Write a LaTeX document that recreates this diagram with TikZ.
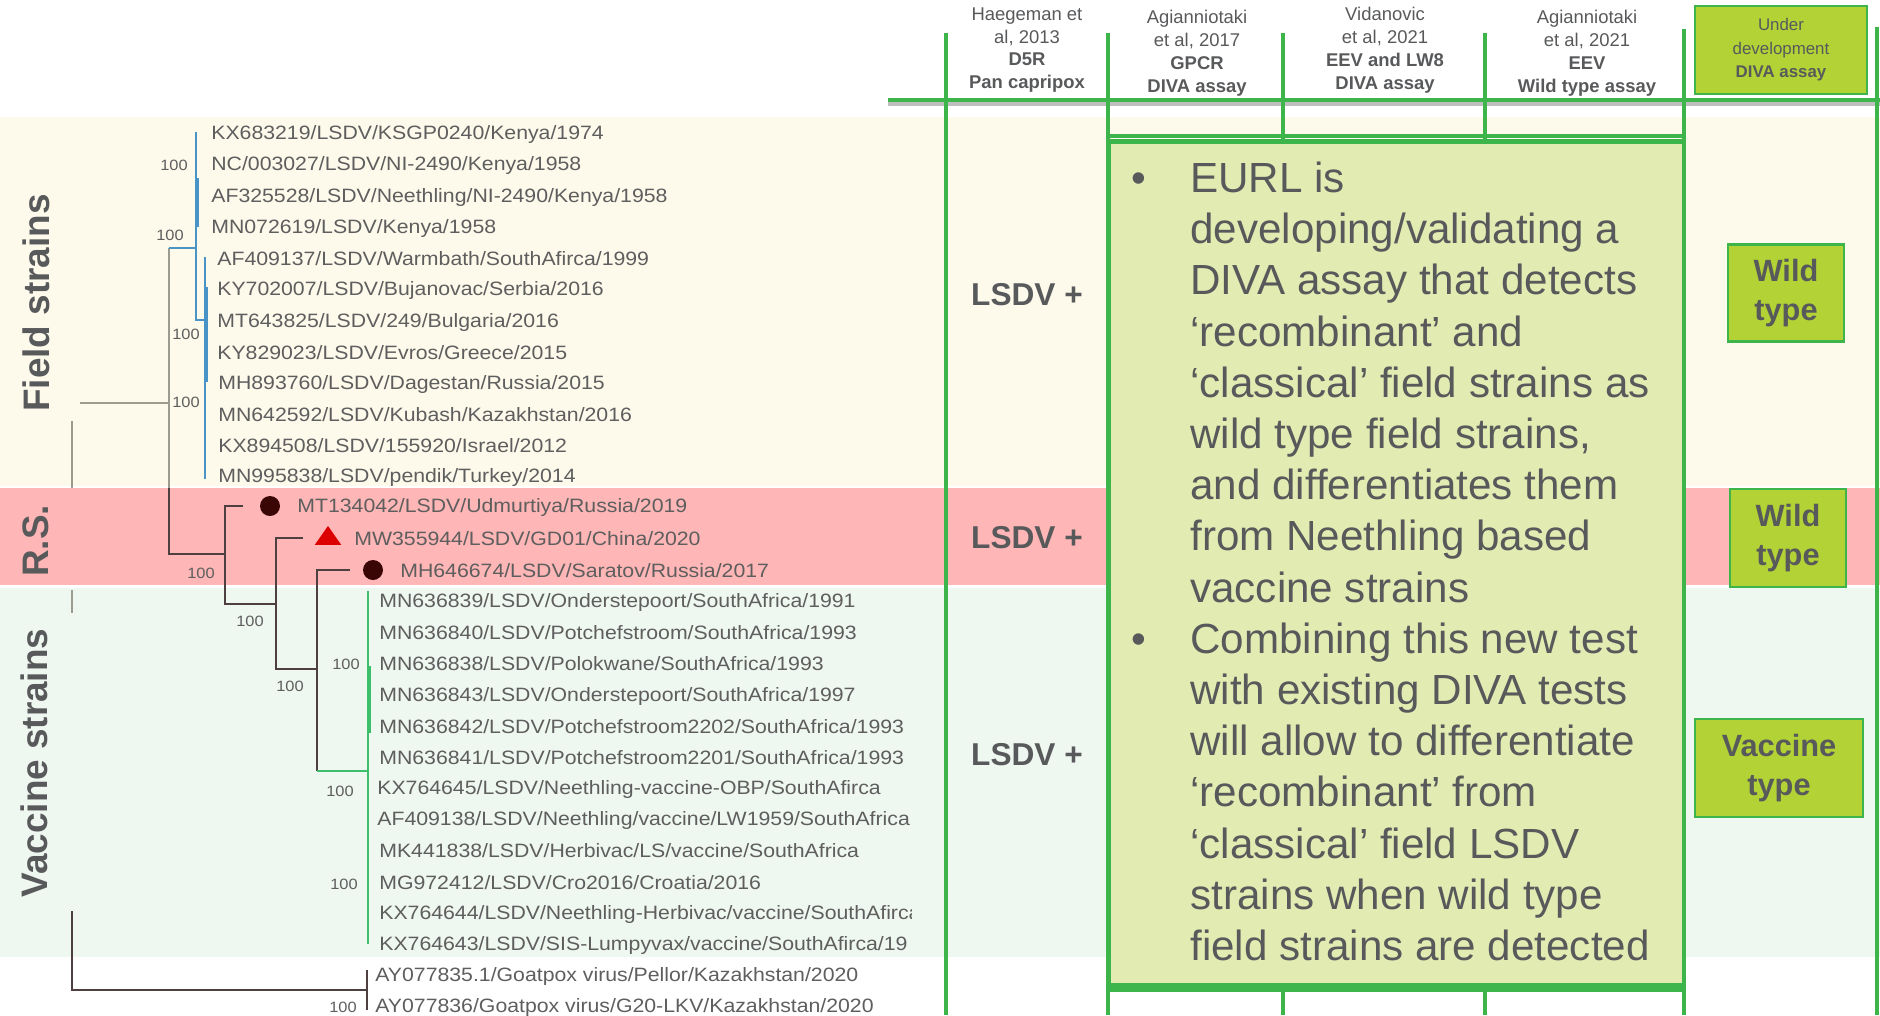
\documentclass[tikz,border=0pt]{standalone}
\usepackage{fontspec}
\setmainfont{Liberation Sans}
\usepackage{graphicx}
\usetikzlibrary{shapes.geometric}
\definecolor{creamband}{HTML}{FDFAEB}
\definecolor{pinkband}{HTML}{FEB6B6}
\definecolor{mintband}{HTML}{EFF7F1}
\definecolor{rulegreen}{HTML}{3DB54A}
\definecolor{limefill}{HTML}{B3D236}
\definecolor{panelfill}{HTML}{E2ECB2}
\definecolor{inkgray}{HTML}{58595B}
\definecolor{leafgray}{HTML}{5E5E5E}
\definecolor{treegray}{HTML}{9C9B90}
\definecolor{treedark}{HTML}{4E4040}
\definecolor{cladeblue}{HTML}{4A93C6}
\definecolor{cladegreen}{HTML}{3DBE6A}
\definecolor{markerdark}{HTML}{3A0505}
\definecolor{markerred}{HTML}{DD0000}
% tree labels are set slightly wide
\newcommand\widen[1]{\scalebox{1.1}[1]{#1}}
\begin{document}
\begin{tikzpicture}[x=0.02cm,y=-0.02cm,
  leaf/.style={anchor=west,inner sep=0pt,text=leafgray,font=\fontsize{11}{13}\selectfont},
  boot/.style={inner sep=0pt,text=leafgray,font=\fontsize{8.5}{10}\selectfont},
  fieldbr/.style={draw=treegray,line width=0.8pt},
  darkbr/.style={draw=treedark,line width=0.8pt},
  bluebr/.style={draw=cladeblue,line width=0.9pt},
  greenbr/.style={draw=cladegreen,line width=0.9pt},
  sidelab/.style={rotate=90,inner sep=0pt,text=inkgray,font=\bfseries\fontsize{21}{25}\selectfont},
  rulev/.style={draw=rulegreen,line width=2.3pt},
  colhead/.style={align=center,inner sep=0pt,text=inkgray,font=\fontsize{10.5}{13}\selectfont},
  result/.style={inner sep=0pt,text=inkgray,font=\bfseries\fontsize{18}{22}\selectfont},
  typebox/.style={draw=rulegreen,line width=1.2pt,fill=limefill,text=inkgray,align=center,inner sep=0pt,font=\bfseries\fontsize{17.5}{22.5}\selectfont},
  paneltext/.style={anchor=base west,inner sep=0pt,text=inkgray,font=\fontsize{24}{29}\selectfont},
  bulletmark/.style={anchor=base,inner sep=0pt,text=inkgray,font=\fontsize{24}{29}\selectfont},
  dotmark/.style={circle,fill=markerdark,inner sep=0pt,minimum size=0.4cm},
  trimark/.style={isosceles triangle,shape border rotate=90,isosceles triangle apex angle=70,fill=markerred,inner sep=0pt,minimum height=0.38cm}
]
\useasboundingbox (0,0) rectangle (1880,1015);

% strain group bands
\fill[creamband] (0,117) rectangle (1880,486);
\fill[pinkband] (0,488) rectangle (1880,585);
\fill[mintband] (0,588) rectangle (1880,957);

% ---------------- phylogenetic tree ----------------
\begin{scope}
\clip (0,0) rectangle (911,1015);
% field strain clade
\draw[fieldbr] (80,403) -- (169,403);
\draw[fieldbr] (169,248) -- (169,488);
\draw[darkbr] (169,488) -- (169,554) -- (225,554);
\draw[bluebr] (169,248) -- (196,248);
\draw[bluebr] (196,132) -- (196,320) -- (205,320);
\draw[draw=cladeblue,line width=2pt] (197,178) -- (197,227);
\draw[bluebr] (205,257) -- (205,479);
\draw[draw=cladeblue,line width=2pt] (206,287) -- (206,382);
% recombinant strains
\draw[darkbr] (243,506) -- (225,506) -- (225,604) -- (276,604);
\draw[darkbr] (303,538) -- (276,538) -- (276,669) -- (317,669);
\draw[darkbr] (350,570) -- (317,570) -- (317,771);
\draw[greenbr] (317,771) -- (368,771);
% vaccine clade
\draw[greenbr] (368,591) -- (368,944);
\draw[draw=cladegreen,line width=2pt] (369,666) -- (369,733);
% outgroup and root
\draw[fieldbr] (72,421) -- (72,488);
\draw[fieldbr] (72,590) -- (72,613);
\draw[draw=treedark,line width=0.8pt] (72,911) -- (72,990) -- (367,990);
\draw[draw=treedark,line width=0.8pt] (367,970) -- (367,1010);

\node[dotmark] (m1) at (270,506) {};
\node[trimark] (m2) at (328,538) {};
\node[dotmark] (m3) at (373,570) {};

\node[leaf] (f1) at (211,134) {\widen{KX683219/LSDV/KSGP0240/Kenya/1974}};
\node[leaf] (f2) at (211,165) {\widen{NC/003027/LSDV/NI-2490/Kenya/1958}};
\node[leaf] (f3) at (211,197) {\widen{AF325528/LSDV/Neethling/NI-2490/Kenya/1958}};
\node[leaf] (f4) at (211,228) {\widen{MN072619/LSDV/Kenya/1958}};
\node[leaf] (f5) at (217,259) {\widen{AF409137/LSDV/Warmbath/SouthAfirca/1999}};
\node[leaf] (f6) at (217,290) {\widen{KY702007/LSDV/Bujanovac/Serbia/2016}};
\node[leaf] (f7) at (217,322) {\widen{MT643825/LSDV/249/Bulgaria/2016}};
\node[leaf] (f8) at (217,353) {\widen{KY829023/LSDV/Evros/Greece/2015}};
\node[leaf] (f9) at (218,384) {\widen{MH893760/LSDV/Dagestan/Russia/2015}};
\node[leaf] (f10) at (218,415) {\widen{MN642592/LSDV/Kubash/Kazakhstan/2016}};
\node[leaf] (f11) at (218,446) {\widen{KX894508/LSDV/155920/Israel/2012}};
\node[leaf] (f12) at (218,477) {\widen{MN995838/LSDV/pendik/Turkey/2014}};

\node[leaf] (r1) at (297,507) {\widen{MT134042/LSDV/Udmurtiya/Russia/2019}};
\node[leaf] (r2) at (354,539) {\widen{MW355944/LSDV/GD01/China/2020}};
\node[leaf] (r3) at (400,571) {\widen{MH646674/LSDV/Saratov/Russia/2017}};

\node[leaf] (v1) at (379,602) {\widen{MN636839/LSDV/Onderstepoort/SouthAfrica/1991}};
\node[leaf] (v2) at (379,633) {\widen{MN636840/LSDV/Potchefstroom/SouthAfrica/1993}};
\node[leaf] (v3) at (379,664) {\widen{MN636838/LSDV/Polokwane/SouthAfrica/1993}};
\node[leaf] (v4) at (379,696) {\widen{MN636843/LSDV/Onderstepoort/SouthAfrica/1997}};
\node[leaf] (v5) at (379,727) {\widen{MN636842/LSDV/Potchefstroom2202/SouthAfrica/1993}};
\node[leaf] (v6) at (379,758) {\widen{MN636841/LSDV/Potchefstroom2201/SouthAfrica/1993}};
\node[leaf] (v7) at (377,789) {\widen{KX764645/LSDV/Neethling-vaccine-OBP/SouthAfirca}};
\node[leaf] (v8) at (377,820) {\widen{AF409138/LSDV/Neethling/vaccine/LW1959/SouthAfrica}};
\node[leaf] (v9) at (379,851) {\widen{MK441838/LSDV/Herbivac/LS/vaccine/SouthAfrica}};
\node[leaf] (v10) at (379,883) {\widen{MG972412/LSDV/Cro2016/Croatia/2016}};
\node[leaf] (v11) at (379,914) {\widen{KX764644/LSDV/Neethling-Herbivac/vaccine/SouthAfirca}};
\node[leaf] (v12) at (379,945) {\widen{KX764643/LSDV/SIS-Lumpyvax/vaccine/SouthAfirca/19}};
\node[leaf] (g1) at (375,976) {\widen{AY077835.1/Goatpox virus/Pellor/Kazakhstan/2020}};
\node[leaf] (g2) at (375,1007) {\widen{AY077836/Goatpox virus/G20-LKV/Kazakhstan/2020}};

% bootstrap values
\node[boot] (b1) at (174,165) {\widen{100}};
\node[boot] (b2) at (170,235) {\widen{100}};
\node[boot] (b3) at (186,334) {\widen{100}};
\node[boot] (b4) at (186,402) {\widen{100}};
\node[boot] (b5) at (201,573) {\widen{100}};
\node[boot] (b6) at (250,621) {\widen{100}};
\node[boot] (b7) at (290,686) {\widen{100}};
\node[boot] (b8) at (346,664) {\widen{100}};
\node[boot] (b9) at (340,791) {\widen{100}};
\node[boot] (b10) at (344,884) {\widen{100}};
\node[boot] (b11) at (343,1007) {\widen{100}};
\end{scope}

% group names
\node[sidelab] (fs) at (36,303) {Field strains};
\node[sidelab] (rs) at (36,541) {R.S.};
\node[sidelab] (vs) at (34,763) {Vaccine strains};

% ---------------- assay table ----------------
\draw[draw=black!25,line width=2.3pt] (888,104) -- (1880,104);
\coordinate (c1t) at (946,33);  \coordinate (c1b) at (946,1015);
\coordinate (c2t) at (1108,33); \coordinate (c2b) at (1108,1015);
\coordinate (c3t) at (1283,33); \coordinate (c3b) at (1283,1015);
\coordinate (c4t) at (1485,33); \coordinate (c4b) at (1485,1015);
\coordinate (c5t) at (1684,29); \coordinate (c5b) at (1684,1015);
\coordinate (c6t) at (1877,27); \coordinate (c6b) at (1877,1015);
\draw[rulev] (c1t) -- (c1b);
\draw[rulev] (c2t) -- (c2b);
\draw[rulev] (c3t) -- (c3b);
\draw[rulev] (c4t) -- (c4b);
\draw[rulev] (c5t) -- (c5b);
\draw[rulev] (c6t) -- (c6b);
\draw[draw=rulegreen,line width=2.8pt] (888,100) -- (1880,100);
\draw[draw=rulegreen,line width=1.8pt] (1108,136) -- (1684,136);
\draw[draw=rulegreen,line width=1.8pt] (1108,990) -- (1684,990);

% summary panel
\node[draw=rulegreen,line width=2.8pt,fill=panelfill,minimum width=11.52cm,minimum height=16.9cm,inner sep=0pt] (panel) at (1396,563.5) {};
\node[bulletmark] (bu1) at (1139,192.5) {•};
\node[bulletmark] (bu2) at (1139,653.3) {•};
\node[paneltext] (t1) at (1190,192.5) {EURL is};
\node[paneltext] (t2) at (1190,243.7) {developing/validating a};
\node[paneltext] (t3) at (1190,294.9) {DIVA assay that detects};
\node[paneltext] (t4) at (1190,346.1) {‘recombinant’ and};
\node[paneltext] (t5) at (1190,397.3) {‘classical’ field strains as};
\node[paneltext] (t6) at (1190,448.5) {wild type field strains,};
\node[paneltext] (t7) at (1190,499.7) {and differentiates them};
\node[paneltext] (t8) at (1190,550.9) {from Neethling based};
\node[paneltext] (t9) at (1190,602.1) {vaccine strains};
\node[paneltext] (t10) at (1190,653.3) {Combining this new test};
\node[paneltext] (t11) at (1190,704.5) {with existing DIVA tests};
\node[paneltext] (t12) at (1190,755.7) {will allow to differentiate};
\node[paneltext] (t13) at (1190,806.9) {‘recombinant’ from};
\node[paneltext] (t14) at (1190,858.1) {‘classical’ field LSDV};
\node[paneltext] (t15) at (1190,909.3) {strains when wild type};
\node[paneltext] (t16) at (1190,960.5) {field strains are detected};

% column headings
\node[colhead] (h1) at (1027,50) {Haegeman et\\al, 2013\\\textbf{D5R}\\\textbf{Pan capripox}};
\node[colhead] (h2) at (1197,53) {Agianniotaki\\et al, 2017\\\textbf{GPCR}\\\textbf{DIVA assay}};
\node[colhead] (h3) at (1385,50) {Vidanovic\\et al, 2021\\\textbf{EEV and LW8}\\\textbf{DIVA assay}};
\node[colhead] (h4) at (1587,53) {Agianniotaki\\et al, 2021\\\textbf{EEV}\\\textbf{Wild type assay}};
\node[draw=rulegreen,line width=1.2pt,fill=limefill,minimum width=3.44cm,minimum height=1.76cm,inner sep=0pt,align=center,text=inkgray,font=\fontsize{9.6}{13.3}\selectfont] (h5) at (1781,50) {Under\\development\\\textbf{DIVA assay}};

% results
\node[result] (p1) at (1027,295) {LSDV +};
\node[result] (p2) at (1027,538) {LSDV +};
\node[result] (p3) at (1027,755) {LSDV +};
\node[typebox,minimum width=2.32cm,minimum height=1.94cm] (w1) at (1786,293) {Wild\\type};
\node[typebox,minimum width=2.32cm,minimum height=1.96cm] (w2) at (1788,538) {Wild\\type};
\node[typebox,minimum width=3.36cm,minimum height=1.96cm] (w3) at (1779,768) {Vaccine\\type};
\end{tikzpicture}
\end{document}
